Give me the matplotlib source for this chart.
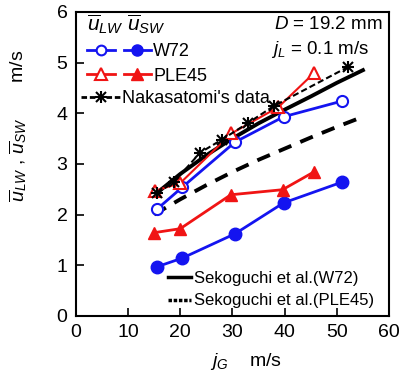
import matplotlib.pyplot as plt
from matplotlib.lines import Line2D
from matplotlib.legend_handler import HandlerTuple

plt.rcParams['font.family'] = ['Liberation Sans', 'DejaVu Sans']
plt.rcParams['mathtext.fontset'] = 'custom'
plt.rcParams['mathtext.rm'] = 'Liberation Sans'
plt.rcParams['mathtext.it'] = 'Liberation Sans:italic'

# W72 (blue): open = u_LW, filled = u_SW
w72_jg = [15.6, 20.4, 30.5, 39.8, 51.0]
w72_lw = [2.11, 2.54, 3.43, 3.93, 4.24]
w72_sw = [0.97, 1.14, 1.62, 2.23, 2.64]

# PLE45 (red)
ple_jg_lw = [15.2, 20.0, 29.8, 38.8, 45.6]
ple_lw = [2.47, 2.62, 3.60, 4.12, 4.79]
ple_jg_sw = [14.9, 20.0, 29.7, 39.6, 45.6]
ple_sw = [1.64, 1.72, 2.39, 2.49, 2.84]

# Nakasatomi's data
nak_jg = [15.5, 18.8, 23.8, 28.0, 32.9, 37.9, 52.1]
nak_u = [2.42, 2.64, 3.22, 3.48, 3.80, 4.14, 4.91]

# Sekoguchi et al. correlations
sek_jg = [15, 20, 25, 30, 35, 40, 45, 50, 55]
sek_w72 = [2.38, 2.80, 3.17, 3.50, 3.80, 4.07, 4.33, 4.60, 4.85]
sek_ple = [2.00, 2.30, 2.58, 2.84, 3.08, 3.30, 3.52, 3.73, 3.93]

fig = plt.figure(figsize=(3.99, 3.72), dpi=100)
ax = fig.add_axes([0.19, 0.151, 0.785, 0.817])

blue = '#1414f0'
red = '#f01414'

ax.plot(sek_jg, sek_ple, color='black', lw=2.8, ls=(0, (3.5, 2.5)), zorder=2)
ax.plot(sek_jg, sek_w72, color='black', lw=2.8, zorder=2)
ax.plot(nak_jg, nak_u, color='black', lw=1.5, ls=(0, (3, 1.5)),
        marker='x', ms=7, mew=1.5, zorder=4)
ax.plot(nak_jg, nak_u, ls='none', marker='+', ms=9, mew=1.5, color='black', zorder=4)

ax.plot(w72_jg, w72_lw, color=blue, lw=2, marker='o', ms=8, mfc='white', mew=1.5, zorder=3)
ax.plot(w72_jg, w72_sw, color=blue, lw=2, marker='o', ms=9, zorder=3)
ax.plot(ple_jg_lw, ple_lw, color=red, lw=1.5, marker='^', ms=9, mfc='white', mew=1.5, zorder=3)
ax.plot(ple_jg_sw, ple_sw, color=red, lw=2, marker='^', ms=9, zorder=3)

ax.set_xlim(0, 60)
ax.set_ylim(0, 6)
ax.set_xticks(range(0, 61, 10))
ax.set_yticks(range(0, 7))
ax.tick_params(direction='in', length=6, width=1.2, labelsize=14, pad=6)
for s in ax.spines.values():
    s.set_linewidth(1.5)

ax.set_xlabel(r'$j_G$    m/s', fontsize=14)
ax.xaxis.set_label_coords(0.545, -0.115)
ax.set_ylabel(r'$\overline{u}_{LW}$ , $\overline{u}_{SW}$       m/s', fontsize=14)
ax.yaxis.set_label_coords(-0.15, 0.625)

ax.text(0.98, 0.985, r'$D$ = 19.2 mm', transform=ax.transAxes, ha='right', va='top', fontsize=13.5)
ax.text(0.935, 0.91, r'$j_L$ = 0.1 m/s', transform=ax.transAxes, ha='right', va='top', fontsize=13.5)

# top-left legend: open marker = u_LW, filled marker = u_SW
h_w_open = Line2D([], [], color=blue, lw=2, marker='o', ms=7, mfc='white', mew=1.5)
h_w_fill = Line2D([], [], color=blue, lw=2, marker='o', ms=8)
h_p_open = Line2D([], [], color=red, lw=2, marker='^', ms=8, mfc='white', mew=1.5)
h_p_fill = Line2D([], [], color=red, lw=2, marker='^', ms=8)
leg1 = ax.legend([(h_w_open, h_w_fill), (h_p_open, h_p_fill)], ['W72', 'PLE45'],
                 handler_map={tuple: HandlerTuple(ndivide=None, pad=0.5)},
                 loc='upper left', bbox_to_anchor=(0.02, 1.015), frameon=False,
                 title=r'$\overline{u}_{LW}\ \overline{u}_{SW}$', title_fontsize=15,
                 alignment='left', fontsize=13, handlelength=3.5, handletextpad=0.15,
                 labelspacing=0.4, borderaxespad=0.2, borderpad=0.1)
ax.add_artist(leg1)

h_nak = Line2D([], [], color='black', lw=2, ls=(0, (2, 1)), marker='x', ms=7, mew=1.5)
h_nak2 = Line2D([], [], color='black', ls='none', marker='+', ms=9, mew=1.5)
leg2 = ax.legend([(h_nak, h_nak2)], ["Nakasatomi's data"],
                 handler_map={tuple: HandlerTuple(ndivide=1)},
                 loc='upper left', bbox_to_anchor=(0.018, 0.742), frameon=False,
                 fontsize=13, handlelength=2.2, handletextpad=0.05,
                 borderaxespad=0.0, borderpad=0.0)
ax.add_artist(leg2)

h_sw = Line2D([], [], color='black', lw=2.5)
h_sp = Line2D([], [], color='black', lw=2.5, ls=(0, (1, 0.5)))
ax.legend([h_sw, h_sp], ['Sekoguchi et al.(W72)', 'Sekoguchi et al.(PLE45)'],
          loc='lower right', bbox_to_anchor=(1.0, -0.025), frameon=False, fontsize=12,
          handlelength=1.4, handletextpad=0.15, labelspacing=0.45)

fig.savefig('out.png', dpi=100)
